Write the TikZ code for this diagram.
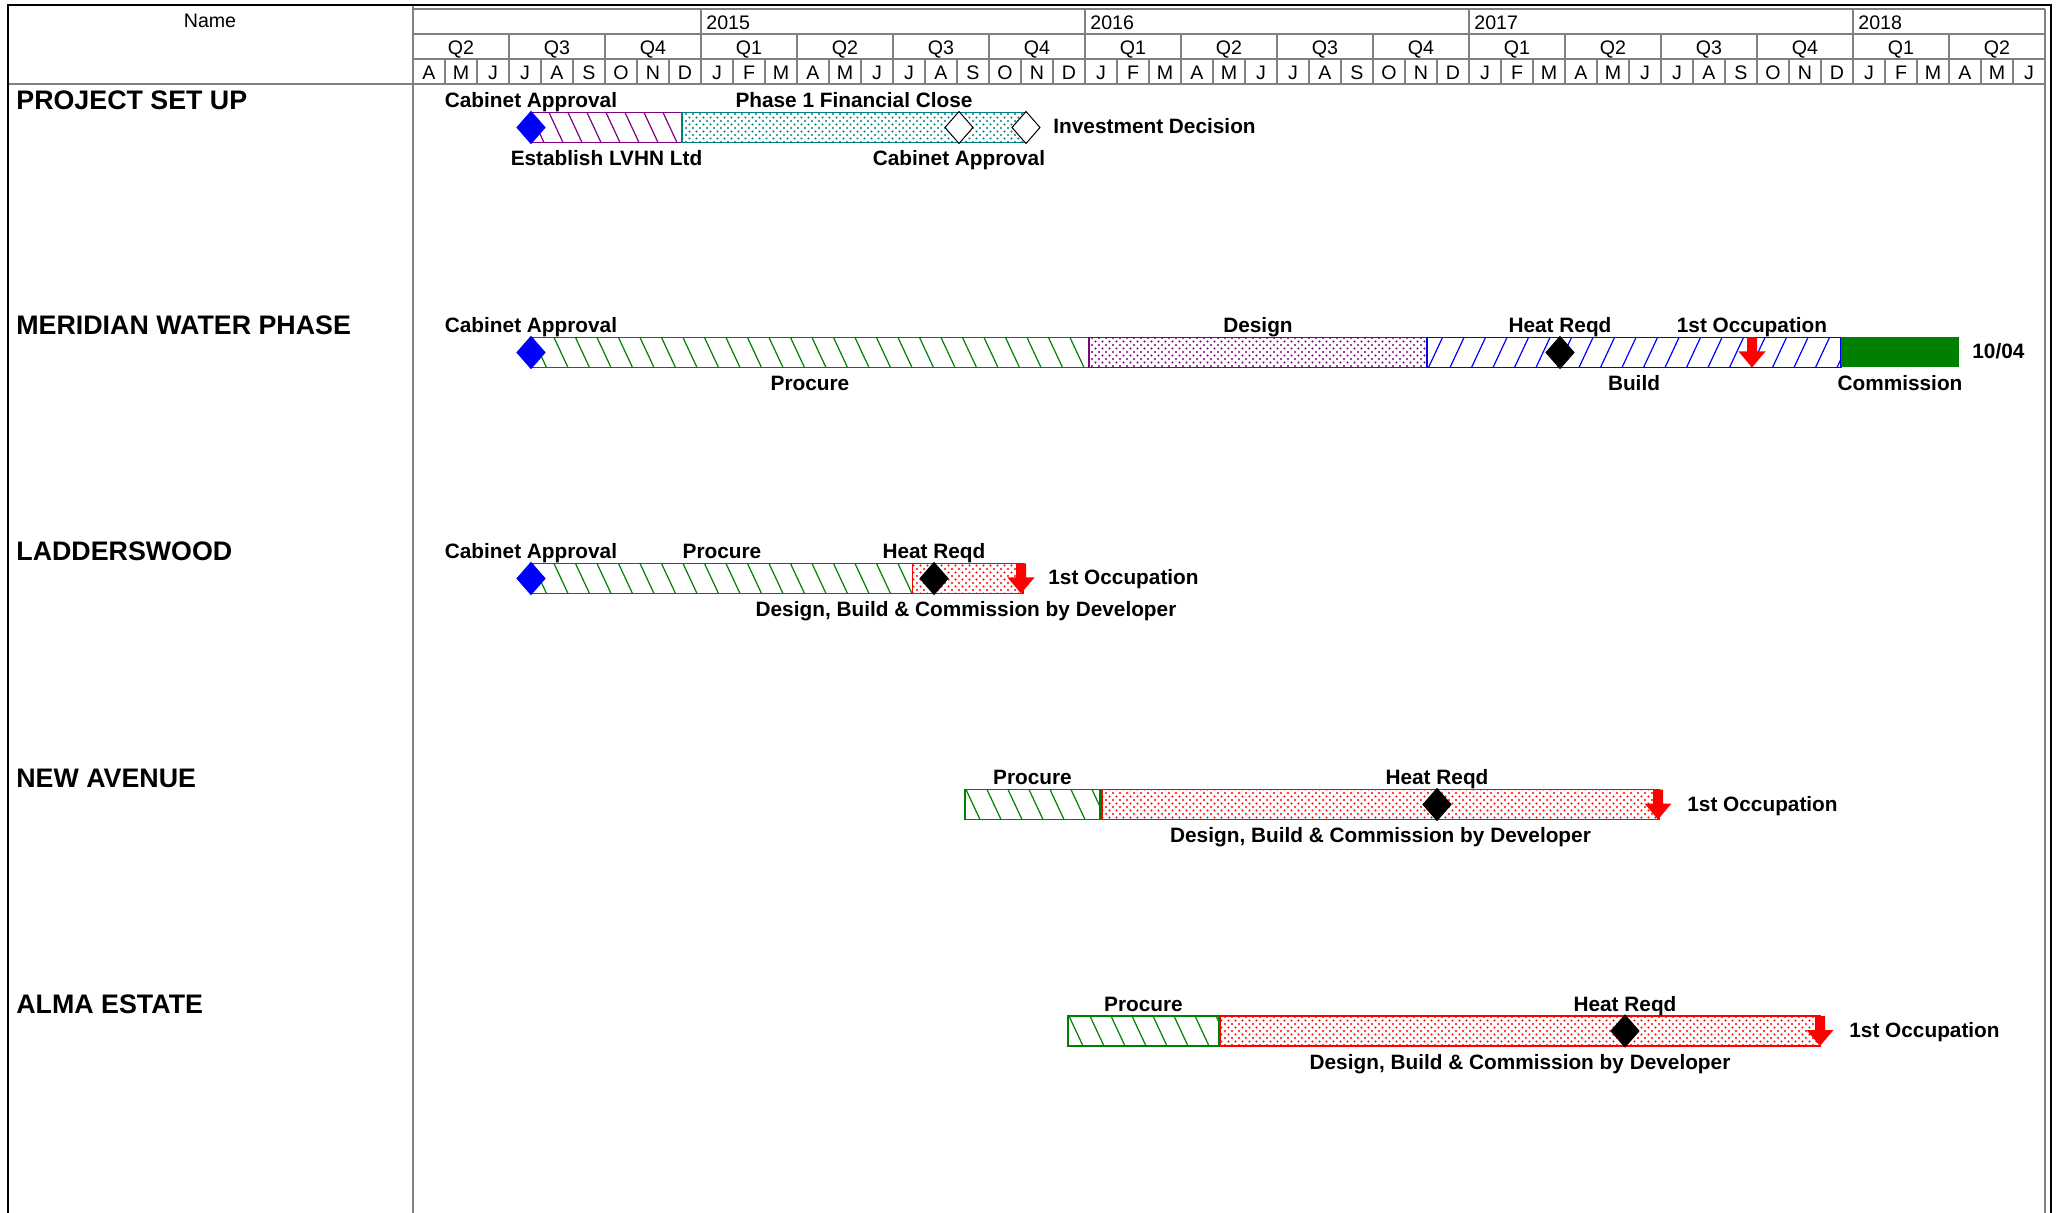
\documentclass[tikz,border=0pt]{standalone}
\usepackage{fontspec}
\setmainfont{Liberation Sans}
\usetikzlibrary{patterns}
\pgfdeclarepatternformonly{gdots}{\pgfqpoint{-0.7pt}{-0.7pt}}{\pgfqpoint{2.5pt}{2.5pt}}{\pgfqpoint{3.5pt}{3.5pt}}{%
 \pgfpathcircle{\pgfqpoint{0pt}{0pt}}{0.55pt}%
 \pgfpathcircle{\pgfqpoint{1.75pt}{1.75pt}}{0.55pt}%
 \pgfusepath{fill}}
\definecolor{gpurple}{RGB}{128,0,128}
\definecolor{gteal}{RGB}{0,128,128}
\definecolor{ggreen}{RGB}{0,128,0}
\definecolor{gblue}{RGB}{0,0,255}
\definecolor{gred}{RGB}{255,0,0}
\definecolor{ggrid}{RGB}{128,128,128}
\tikzset{
 hdr/.style={font=\fontsize{9.8}{12}\selectfont, inner sep=0pt, anchor=base},
 lbl/.style={font=\fontsize{10.4}{12}\selectfont\bfseries, inner sep=0pt, anchor=base},
 rowname/.style={font=\fontsize{13.4}{16}\selectfont\bfseries, inner sep=0pt, anchor=base west},
 gridline/.style={ggrid, line width=0.75pt},
 frameline/.style={black, line width=1.2pt},
 barline/.style={line width=0.6pt}
}
% hatched bar: x1, x2, yc, colour, direction (1 = "\", -1 = "/"), spacing
\newcommand{\gHatch}[6]{%
 \begin{scope}
 \clip (#1,#3-15) rectangle (#2,#3+15);
 \fill[white] (#1,#3-15) rectangle (#2,#3+15);
 \pgfmathtruncatemacro{\gN}{(#2-#1)/#6+3}
 \foreach \i in {0,...,\gN}{
   \draw[#4, line width=0.6pt] ({#1-20+\i*#6},{#3-15*#5}) -- ({#1-20+\i*#6+14},{#3+15*#5});
 }
 \end{scope}
 \draw[#4, barline] (#1,#3-15) rectangle (#2,#3+15);}
% dotted bar: x1, x2, yc, colour
\newcommand{\gDots}[4]{%
 \fill[white] (#1,#3-15) rectangle (#2,#3+15);
 \fill[pattern=gdots, pattern color=#4] (#1,#3-15) rectangle (#2,#3+15);
 \draw[#4, barline] (#1,#3-15) rectangle (#2,#3+15);}
% diamond: cx, yc, fill, draw
\newcommand{\gDiamond}[4]{%
 \filldraw[fill=#3, draw=#4, line width=0.5pt] (#1,#2-16) -- (#1+14,#2) -- (#1,#2+16) -- (#1-14,#2) -- cycle;}
% red down arrow: cx, yc
\newcommand{\gArrow}[2]{%
 \fill[gred] (#1-5,#2-15) -- (#1+5,#2-15) -- (#1+5,#2-1) -- (#1+13.5,#2-1) -- (#1,#2+15) -- (#1-13.5,#2-1) -- (#1-5,#2-1) -- cycle;}
\begin{document}
\begin{tikzpicture}[x=0.5pt,y=-0.5pt]
\fill[white] (0,0) rectangle (2062,1213);
\useasboundingbox (0,0) rectangle (2062,1213);

% ---------- header grid ----------
\draw[gridline] (413,9) -- (2045,9);
\draw[gridline] (413,34) -- (2045,34);
\draw[gridline] (413,59) -- (2045,59);
\draw[gridline] (8,84) -- (2045,84);
\draw[gridline] (413,5) -- (413,1213);
\draw[gridline] (2045,9) -- (2045,1213);
\foreach \i in {1,...,50} \draw[gridline] ({413+32*\i},59) -- ({413+32*\i},84);
\foreach \i in {1,...,16} \draw[gridline] ({413+96*\i},34) -- ({413+96*\i},59);
\foreach \x in {701,1085,1469,1853} \draw[gridline] (\x,9) -- (\x,34);

% ---------- outer frame ----------
\draw[frameline] (8,1213) -- (8,5) -- (2051,5) -- (2051,1213);

% ---------- header text ----------
\node[hdr, name=hname] at (210,28) {Name};
\foreach \y/\mx in {2015/701,2016/1085,2017/1469,2018/1853}
  \node[hdr, anchor=base west, name=yr\y] at (\mx+5,30) {\y};
\foreach \q in {0,...,16}{
  \pgfmathtruncatemacro{\qn}{mod(\q+1,4)+1}
  \node[hdr, name=qt\q] at ({461+96*\q},55) {Q\qn};
}
\foreach \mletter [count=\i from 0] in {A,M,J,J,A,S,O,N,D,J,F,M,A,M,J,J,A,S,O,N,D,J,F,M,A,M,J,J,A,S,O,N,D,J,F,M,A,M,J,J,A,S,O,N,D,J,F,M,A,M,J}
  \node[hdr, name=mo\i] at ({429+32*\i},80) {\mletter};

% ---------- row names ----------
\node[rowname, name=rn1] at (16,110) {PROJECT SET UP};
\node[rowname, name=rn2] at (16,335) {MERIDIAN WATER PHASE};
\node[rowname, name=rn3] at (16,561) {LADDERSWOOD};
\node[rowname, name=rn4] at (16,787) {NEW AVENUE};
\node[rowname, name=rn5] at (16,1013.5) {ALMA ESTATE};

% ---------- row 1 : PROJECT SET UP (yc = 127.5) ----------
\gHatch{531}{682}{127.5}{gpurple}{1}{19}
\gDots{682}{1026}{127.5}{gteal}
\gDiamond{531}{127.5}{gblue}{gblue}
\gDiamond{959}{127.5}{white}{black}
\gDiamond{1026}{127.5}{white}{black}
\node[lbl, name=a1ca] at (531,107.5) {Cabinet Approval};
\node[lbl, name=a1pf] at (854,107.5) {Phase 1 Financial Close};
\node[lbl, name=a1el] at (606.5,165.5) {Establish LVHN Ltd};
\node[lbl, name=a1cb] at (959,165.5) {Cabinet Approval};
\node[lbl, anchor=base west, name=a1id] at (1053,134) {Investment Decision};

% ---------- row 2 : MERIDIAN WATER PHASE (yc = 352.5) ----------
\gHatch{531}{1089}{352.5}{ggreen}{1}{21.5}
\gDots{1089}{1427}{352.5}{gpurple}
\gHatch{1427}{1841}{352.5}{gblue}{-1}{21.5}
\fill[ggreen] (1841,337.5) rectangle (1959,367.5);
\gDiamond{531}{352.5}{gblue}{gblue}
\gDiamond{1560}{352.5}{black}{black}
\gArrow{1752}{352.5}
\node[lbl, name=a2ca] at (531,332.5) {Cabinet Approval};
\node[lbl, name=a2de] at (1258,332.5) {Design};
\node[lbl, name=a2hr] at (1560,332.5) {Heat Reqd};
\node[lbl, name=a2oc] at (1752,332.5) {1st Occupation};
\node[lbl, name=a2pr] at (810,390.5) {Procure};
\node[lbl, name=a2bu] at (1634,390.5) {Build};
\node[lbl, name=a2co] at (1900,390.5) {Commission};
\node[lbl, anchor=base west, name=a2dt] at (1972,359) {10/04};

% ---------- row 3 : LADDERSWOOD (yc = 578.5) ----------
\gHatch{531}{912.5}{578.5}{ggreen}{1}{21.5}
\gDots{912.5}{1023}{578.5}{gred}
\gDiamond{531}{578.5}{gblue}{gblue}
\gDiamond{934}{578.5}{black}{black}
\gArrow{1021}{578.5}
\node[lbl, name=a3ca] at (531,558.5) {Cabinet Approval};
\node[lbl, name=a3pr] at (722,558.5) {Procure};
\node[lbl, name=a3hr] at (934,558.5) {Heat Reqd};
\node[lbl, name=a3db] at (966,616.5) {Design, Build \& Commission by Developer};
\node[lbl, anchor=base west, name=a3oc] at (1048,585) {1st Occupation};

% ---------- row 4 : NEW AVENUE (yc = 804.5) ----------
\gHatch{965}{1100}{804.5}{ggreen}{1}{21}
\gDots{1102}{1659}{804.5}{gred}
\gDiamond{1437}{804.5}{black}{black}
\gArrow{1658}{804.5}
\node[lbl, name=a4pr] at (1032.5,784.5) {Procure};
\node[lbl, name=a4hr] at (1437,784.5) {Heat Reqd};
\node[lbl, name=a4db] at (1380.5,842.5) {Design, Build \& Commission by Developer};
\node[lbl, anchor=base west, name=a4oc] at (1687,811) {1st Occupation};

% ---------- row 5 : ALMA ESTATE (yc = 1031) ----------
\gHatch{1068}{1219}{1031}{ggreen}{1}{21}
\gDots{1220}{1820}{1031}{gred}
\gDiamond{1625}{1031}{black}{black}
\gArrow{1820}{1031}
\node[lbl, name=a5pr] at (1143.5,1011) {Procure};
\node[lbl, name=a5hr] at (1625,1011) {Heat Reqd};
\node[lbl, name=a5db] at (1520,1069) {Design, Build \& Commission by Developer};
\node[lbl, anchor=base west, name=a5oc] at (1849,1037.5) {1st Occupation};
\end{tikzpicture}
\end{document}
